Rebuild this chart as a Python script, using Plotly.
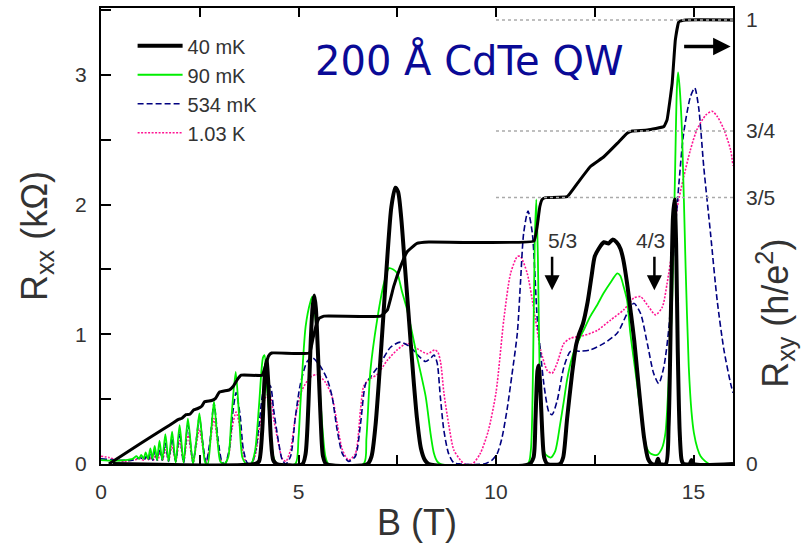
import plotly.graph_objects as go

# ---------------- data (B in tesla, Rxx in kOhm, Rxy in h/e^2) ----------------
rxx_40mK = [(0.3,0.0),(3.9,0.0),(4.0,0.02),(4.08,0.25),(4.14,0.65),(4.19,0.8),(4.24,0.6),(4.3,0.2),(4.36,0.03),(4.45,0.0),
            (5.1,0.0),(5.18,0.08),(5.25,0.45),(5.31,0.95),(5.36,1.22),(5.4,1.3),(5.44,1.2),(5.5,0.8),(5.56,0.35),(5.62,0.06),(5.7,0.0),
            (6.75,0.0),(6.85,0.06),(6.95,0.3),(7.05,0.7),(7.15,1.15),(7.25,1.6),(7.35,1.98),(7.45,2.13),(7.52,2.1),(7.6,1.9),
            (7.7,1.5),(7.8,1.1),(7.9,0.7),(8.0,0.35),(8.1,0.12),(8.2,0.03),(8.3,0.0),
            (10.85,0.0),(10.95,0.05),(11.0,0.35),(11.05,0.72),(11.08,0.76),(11.12,0.6),(11.17,0.25),(11.22,0.05),(11.3,0.0),
            (11.62,0.0),(11.7,0.05),(11.8,0.35),(11.92,0.68),(12.03,0.92),(12.1,1.0),(12.2,1.08),(12.32,1.25),(12.42,1.45),
            (12.5,1.6),(12.6,1.66),(12.73,1.71),(12.85,1.70),(12.95,1.73),(13.05,1.71),(13.15,1.66),(13.22,1.58),(13.32,1.39),
            (13.42,1.15),(13.5,0.95),(13.58,0.7),(13.66,0.45),(13.75,0.2),(13.85,0.04),(13.95,0.0),(14.05,0.0),(14.1,0.04),
            (14.15,0.0),(14.3,0.0),(14.37,0.3),(14.43,1.2),(14.48,1.9),(14.52,2.04),(14.56,1.7),(14.6,0.9),(14.65,0.25),
            (14.7,0.03),(14.75,0.0),(14.9,0.0),(14.95,0.03),(15.0,0.0),(16.0,0.0)]

rxx_90mK = [(0.0,0.03),(0.3,0.025),(0.6,0.03),(0.8,0.04),(0.9,0.06),(0.96,0.04),(1.02,0.07),(1.08,0.04),(1.13,0.09),
            (1.19,0.04),(1.25,0.12),(1.3,0.04),(1.36,0.14),(1.42,0.03),(1.48,0.18),(1.55,0.03),(1.63,0.23),(1.71,0.02),
            (1.8,0.25),(1.89,0.01),(1.99,0.30),(2.09,0.01),(2.2,0.35),(2.33,0.0),(2.42,0.2),(2.49,0.39),(2.56,0.2),
            (2.64,0.01),(2.7,0.0),(2.78,0.22),(2.86,0.48),(2.94,0.22),(3.02,0.02),(3.12,0.0),(3.22,0.05),(3.3,0.35),
            (3.41,0.71),(3.5,0.35),(3.58,0.05),(3.68,0.0),(3.8,0.0),(3.9,0.1),(4.0,0.45),(4.1,0.82),(4.14,0.84),(4.2,0.6),
            (4.28,0.3),(4.36,0.06),(4.45,0.0),(4.92,0.0),(5.0,0.2),(5.05,0.47),(5.18,1.06),(5.3,1.25),(5.35,1.29),(5.4,1.2),
            (5.47,0.98),(5.56,0.47),(5.68,0.06),(5.76,0.0),(6.65,0.0),(6.72,0.2),(6.82,0.72),(6.99,1.11),(7.16,1.39),
            (7.29,1.51),(7.4,1.5),(7.5,1.47),(7.62,1.33),(7.75,1.19),(8.0,0.83),(8.22,0.52),(8.35,0.22),(8.43,0.08),
            (8.51,0.02),(8.6,0.0),(10.8,0.0),(10.88,0.1),(10.94,0.8),(10.98,1.7),(11.02,2.04),(11.06,1.6),(11.1,0.8),
            (11.16,0.25),(11.24,0.08),(11.38,0.05),(11.5,0.1),(11.62,0.3),(11.72,0.49),(11.8,0.65),(11.89,0.78),
            (12.01,0.9),(12.2,1.02),(12.39,1.14),(12.55,1.22),(12.73,1.32),(12.9,1.4),(13.07,1.47),(13.15,1.45),
            (13.22,1.38),(13.32,1.26),(13.4,1.01),(13.5,0.78),(13.57,0.62),(13.66,0.4),(13.74,0.24),(13.82,0.12),
            (13.91,0.08),(14.08,0.07),(14.2,0.12),(14.29,0.24),(14.38,0.7),(14.46,1.26),(14.53,2.2),(14.58,2.9),
            (14.61,3.02),(14.65,2.9),(14.71,2.55),(14.8,1.52),(14.88,0.75),(14.95,0.4),(15.01,0.24),(15.1,0.12),
            (15.18,0.06),(15.3,0.02),(15.4,0.0),(16.0,0.0)]

rxx_534mK = [(0.0,0.04),(0.4,0.03),(0.8,0.03),(1.0,0.05),(1.08,0.03),(1.15,0.06),(1.2,0.03),(1.25,0.08),(1.31,0.03),
             (1.36,0.1),(1.42,0.03),(1.48,0.12),(1.55,0.03),(1.63,0.16),(1.71,0.02),(1.8,0.2),(1.89,0.02),(1.99,0.24),
             (2.09,0.01),(2.2,0.3),(2.33,0.01),(2.41,0.18),(2.49,0.36),(2.57,0.18),(2.66,0.01),(2.76,0.18),(2.86,0.47),
             (2.96,0.2),(3.06,0.02),(3.14,0.0),(3.25,0.12),(3.33,0.38),(3.42,0.55),(3.52,0.38),(3.6,0.12),(3.7,0.01),
             (3.8,0.0),(3.9,0.08),(4.0,0.3),(4.1,0.55),(4.2,0.62),(4.29,0.6),(4.37,0.42),(4.5,0.16),(4.59,0.03),(4.68,0.0),
             (4.8,0.06),(4.92,0.36),(5.05,0.62),(5.22,0.79),(5.35,0.82),(5.56,0.75),(5.73,0.65),(5.85,0.52),(5.98,0.26),
             (6.11,0.08),(6.27,0.02),(6.44,0.06),(6.57,0.31),(6.7,0.62),(6.82,0.67),(7.08,0.78),(7.33,0.9),(7.58,0.94),
             (7.84,0.9),(8.05,0.83),(8.22,0.79),(8.36,0.82),(8.43,0.84),(8.51,0.78),(8.59,0.52),(8.68,0.26),(8.8,0.08),
             (8.93,0.01),(9.1,0.0),(9.69,0.0),(9.9,0.03),(10.03,0.08),(10.15,0.2),(10.28,0.42),(10.4,0.68),(10.54,1.01),
             (10.62,1.4),(10.7,1.78),(10.81,1.95),(10.92,1.78),(11.04,1.14),(11.13,0.85),(11.21,0.62),(11.34,0.4),
             (11.42,0.38),(11.55,0.49),(11.72,0.75),(11.89,0.87),(12.14,0.87),(12.39,0.88),(12.73,0.93),(13.07,1.01),
             (13.32,1.16),(13.49,1.24),(13.66,1.16),(13.83,0.93),(13.99,0.7),(14.12,0.62),(14.25,0.75),(14.38,1.06),
             (14.5,1.65),(14.63,2.16),(14.75,2.55),(14.92,2.83),(15.03,2.9),(15.13,2.75),(15.26,2.29),(15.43,1.78),
             (15.6,1.26),(15.77,0.88),(15.94,0.62),(16.0,0.55)]

rxx_1p03K = [(0.0,0.06),(0.2,0.05),(0.4,0.03),(0.6,0.02),(0.8,0.03),(1.0,0.04),(1.08,0.03),(1.16,0.05),(1.22,0.03),
             (1.28,0.06),(1.33,0.03),(1.38,0.07),(1.44,0.03),(1.5,0.09),(1.56,0.03),(1.63,0.11),(1.71,0.03),(1.8,0.14),
             (1.89,0.02),(1.99,0.18),(2.09,0.02),(2.2,0.22),(2.33,0.01),(2.41,0.14),(2.49,0.27),(2.57,0.14),(2.66,0.01),
             (2.76,0.15),(2.86,0.35),(2.96,0.15),(3.06,0.01),(3.14,0.0),(3.24,0.08),(3.32,0.28),(3.42,0.40),(3.52,0.28),
             (3.6,0.08),(3.7,0.0),(3.8,0.0),(3.9,0.06),(4.0,0.25),(4.1,0.45),(4.2,0.53),(4.29,0.52),(4.37,0.35),
             (4.46,0.21),(4.59,0.04),(4.68,0.02),(4.8,0.11),(4.92,0.36),(5.09,0.57),(5.3,0.67),(5.47,0.69),(5.68,0.63),
             (5.85,0.52),(5.98,0.31),(6.11,0.11),(6.27,0.03),(6.44,0.08),(6.57,0.42),(6.65,0.6),(6.78,0.65),(6.99,0.69),
             (7.25,0.8),(7.5,0.88),(7.75,0.93),(8.0,0.89),(8.26,0.85),(8.45,0.88),(8.53,0.86),(8.6,0.78),(8.68,0.55),
             (8.8,0.31),(8.93,0.11),(9.1,0.03),(9.2,0.0),(9.4,0.0),(9.6,0.08),(9.8,0.25),(10.0,0.55),(10.2,1.12),
             (10.37,1.47),(10.54,1.6),(10.62,1.6),(10.79,1.47),(10.96,1.19),(11.13,0.88),(11.3,0.72),(11.42,0.7),
             (11.55,0.78),(11.72,0.93),(11.89,0.97),(12.22,0.99),(12.56,1.03),(12.9,1.11),(13.24,1.19),(13.49,1.28),
             (13.66,1.29),(13.87,1.21),(14.04,1.15),(14.21,1.21),(14.33,1.39),(14.46,1.65),(14.59,1.98),(14.75,2.21),
             (14.92,2.42),(15.09,2.58),(15.31,2.69),(15.47,2.72),(15.6,2.68),(15.77,2.58),(15.94,2.42),(16.0,2.3)]

rxy_40mK = [(0.2,0.0),(1.0,0.046),(1.6,0.08),(1.85,0.094),(1.95,0.1),(2.05,0.103),(2.15,0.111),(2.25,0.112),
            (2.35,0.122),(2.45,0.125),(2.55,0.13),(2.62,0.14),(2.8,0.143),(2.9,0.148),(3.0,0.162),(3.25,0.167),
            (3.35,0.175),(3.45,0.19),(3.55,0.2),(4.08,0.2),(4.16,0.22),(4.24,0.243),(4.32,0.25),(5.28,0.25),(5.36,0.28),
            (5.44,0.31),(5.52,0.328),(5.65,0.333),(7.08,0.333),(7.25,0.347),(7.41,0.40),(7.58,0.444),(7.75,0.478),
            (8.0,0.497),(8.3,0.5),(10.96,0.502),(11.04,0.534),(11.11,0.58),(11.17,0.596),(11.25,0.6),(11.8,0.602),
            (12.06,0.632),(12.39,0.67),(12.73,0.692),(13.07,0.722),(13.32,0.745),(13.45,0.75),(13.83,0.752),
            (14.25,0.76),(14.33,0.775),(14.46,0.858),(14.54,0.955),(14.63,0.996),(14.8,1.0),(16.0,1.0)]

hall_levels = [1.0, 0.75, 0.6]
hall_ticks = [0, 0.6, 0.75, 1.0]
hall_ticktext = ["0", "3/5", "3/4", "1"]
series = [("40 mK", rxx_40mK), ("90 mK", rxx_90mK), ("534 mK", rxx_534mK), ("1.03 K", rxx_1p03K)]

FONT = "Liberation Sans, Arial, sans-serif"
TXT = "#333333"

styles = {
    "40 mK": dict(color="black", width=4, dash="solid"),
    "90 mK": dict(color="#00ee00", width=1.8, dash="solid"),
    "534 mK": dict(color="#000080", width=1.6, dash="6px,3px"),
    "1.03 K": dict(color="#ff1493", width=1.6, dash="2px,1.5px"),
}

fig = go.Figure()
draw_order = ["1.03 K", "534 mK", "90 mK", "40 mK"]
rank = {"40 mK": 1, "90 mK": 2, "534 mK": 3, "1.03 K": 4}
data = dict(series)
for name in draw_order:
    pts = data[name]
    fig.add_trace(go.Scatter(
        x=[p[0] for p in pts], y=[p[1] for p in pts], name=name, mode="lines",
        line=dict(shape="spline", smoothing=0.7, **styles[name]),
        legendrank=rank[name], yaxis="y"))

fig.add_trace(go.Scatter(
    x=[p[0] for p in rxy_40mK], y=[p[1] for p in rxy_40mK], mode="lines",
    line=dict(color="black", width=3, shape="spline", smoothing=0.3),
    showlegend=False, yaxis="y2"))

for lv in hall_levels:
    fig.add_shape(type="line", xref="x", yref="y2", x0=10, x1=16, y0=lv, y1=lv,
                  line=dict(color="#aaaaaa", width=1.5, dash="dot"), layer="above")

ann = []
ann.append(dict(text="200 Å CdTe QW", xref="paper", yref="paper", x=0.582, y=0.884,
                xanchor="center", yanchor="middle", showarrow=False,
                font=dict(family="Comic Sans MS, DejaVu Sans, sans-serif", size=40, color="#0a0a96")))
ann.append(dict(text="R<sub>xy</sub> (h/e<sup>2</sup>)", xref="paper", yref="paper", x=1.067, y=0.33,
                xanchor="center", yanchor="middle", showarrow=False, textangle=-90,
                font=dict(family=FONT, size=36, color=TXT)))
for label, bx in [("5/3", 11.68), ("4/3", 13.91)]:
    ann.append(dict(text=label, x=bx, y=1.72, xref="x", yref="y", showarrow=False,
                    font=dict(family=FONT, size=21, color=TXT)))
for bx in [11.42, 14.01]:
    ann.append(dict(text="", x=bx, y=1.34, xref="x", yref="y", ax=0, ay=-35,
                    showarrow=True, arrowhead=2, arrowsize=1.2, arrowwidth=2.5, arrowcolor="black"))
ann.append(dict(text="", x=15.94, y=3.22, xref="x", yref="y", ax=-48, ay=0,
                showarrow=True, arrowhead=2, arrowsize=1.0, arrowwidth=3.5, arrowcolor="black"))

fig.update_layout(
    width=808, height=547, margin=dict(l=101, r=75, t=8, b=83),
    paper_bgcolor="white", plot_bgcolor="white",
    font=dict(family=FONT, color=TXT),
    showlegend=True,
    legend=dict(x=0.05, y=0.96, xanchor="left", yanchor="top", bgcolor="rgba(0,0,0,0)",
                font=dict(family=FONT, size=20, color=TXT), tracegroupgap=0, itemwidth=45),
    xaxis=dict(range=[0, 16], dtick=5, tick0=0, ticks="inside", ticklen=9, tickwidth=1.5, automargin=False,
               tickcolor="black", showline=True, linecolor="black", linewidth=2, mirror="ticks",
               showgrid=False, zeroline=False, tickfont=dict(size=21, color=TXT),
               minor=dict(dtick=2.5, ticks="inside", ticklen=9, tickwidth=1.5, tickcolor="black", showgrid=False),
               title=dict(text="B (T)", font=dict(size=36, color=TXT), standoff=8),
               ticklabelstandoff=8),
    yaxis=dict(range=[0, 3.516], dtick=1, tick0=0, ticks="inside", ticklen=10, tickwidth=1.5, automargin=False,
               tickcolor="black", showline=True, linecolor="black", linewidth=2, mirror=True,
               showgrid=False, zeroline=False, tickfont=dict(size=21, color=TXT),
               minor=dict(dtick=0.5, ticks="inside", ticklen=10, tickwidth=1.5, tickcolor="black", showgrid=False),
               title=dict(text="R<sub>xx</sub> (kΩ)", font=dict(size=36, color=TXT), standoff=17),
               ticklabelstandoff=8),
    yaxis2=dict(range=[0, 1.027], overlaying="y", side="right", tickvals=hall_ticks, ticktext=hall_ticktext,
                ticks="", showline=False, showgrid=False, zeroline=False, automargin=False,
                tickfont=dict(size=21, color=TXT), ticklabelstandoff=12),
    annotations=ann,
)

fig.write_html("out.html")
